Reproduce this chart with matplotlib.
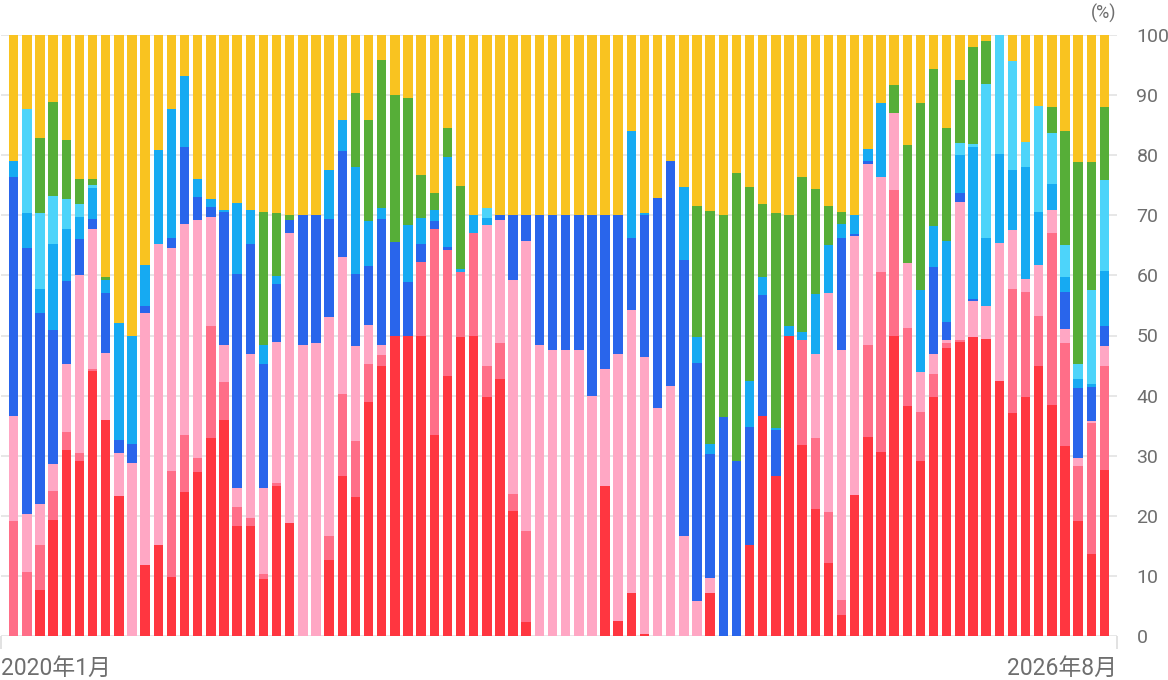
import matplotlib
matplotlib.use('Agg')
import matplotlib.pyplot as plt
import numpy as np

plt.rcParams['font.family'] = ['Roboto', 'Noto Sans CJK SC', 'DejaVu Sans']

# 84 monthly bars, only first and last month are labelled
first_label = '2020年1月'
last_label = '2026年8月'
y_ticks = [0, 10, 20, 30, 40, 50, 60, 70, 80, 90, 100]

# series values (%), stacked bottom -> top
red = [0, 0, 7.6, 19.3, 31.0, 29.1, 44.1, 35.9, 23.3, 0, 11.8, 15.2,
       9.8, 23.9, 27.3, 33.0, 35.9, 18.3, 18.3, 9.5, 25.0, 18.8, 0, 0,
       12.6, 26.6, 23.1, 38.9, 45.0, 50.0, 50.0, 50.0, 33.4, 43.2, 49.7, 50.0,
       39.7, 42.7, 20.8, 2.4, 0, 0, 0, 0, 0, 25.0, 2.5, 7.1,
       0.3, 0, 0, 0, 0, 7.2, 0, 0, 15.2, 36.6, 26.6, 50.0,
       31.8, 21.2, 12.1, 3.5, 23.5, 33.1, 30.6, 50.0, 38.2, 29.2, 39.7, 48.0,
       49.0, 49.8, 49.5, 42.4, 37.1, 39.7, 45.0, 38.4, 31.6, 19.2, 13.7, 27.6]
salmon = [19.2, 10.6, 7.6, 4.8, 3.0, 1.3, 0.3, 0, 0, 0, 0, 0,
          17.7, 9.6, 2.4, 18.5, 6.4, 3.1, 1.4, 0.8, 0.5, 0, 0, 0,
          4.1, 13.7, 9.4, 6.4, 1.7, 0, 0, 12.2, 34.4, 21.0, 10.8, 17.0,
          5.3, 6.0, 2.9, 15.1, 0, 0, 0, 0, 0, 0, 0, 0,
          0, 0, 0, 0, 0, 0, 0, 0, 0, 0, 0, 0,
          17.5, 11.7, 8.5, 2.5, 0, 15.4, 29.9, 24.2, 13.1, 8.1, 3.9, 0.7,
          0.3, 0, 0, 0, 20.6, 17.5, 8.3, 28.6, 17.1, 9.1, 21.7, 17.4]
pink = [17.4, 9.7, 6.8, 4.5, 11.2, 29.7, 23.4, 11.2, 7.1, 28.8, 42.0, 50.0,
        37.1, 35.1, 39.6, 18.2, 6.2, 3.2, 27.2, 14.3, 23.4, 48.2, 48.5, 48.7,
        36.4, 22.8, 15.7, 6.5, 1.8, 0, 0, 0, 0, 0, 0, 0,
        23.4, 20.6, 35.6, 48.2, 48.5, 47.6, 47.6, 47.6, 39.9, 19.4, 44.5, 47.1,
        46.2, 38.0, 41.6, 16.7, 5.8, 2.4, 0, 0, 0, 0, 0, 0,
        0, 14.0, 36.4, 41.6, 43.0, 30.1, 15.8, 12.9, 10.7, 6.6, 3.4, 0.6,
        22.9, 6.0, 5.4, 23.0, 9.9, 2.2, 8.5, 3.9, 2.3, 1.3, 0.4, 3.2]
blue = [39.7, 44.3, 31.7, 22.3, 13.9, 5.9, 1.6, 10.0, 2.2, 3.2, 1.1, 0,
        1.7, 12.8, 3.7, 1.7, 22.0, 35.7, 18.3, 20.7, 9.6, 2.2, 21.5, 21.3,
        16.3, 17.6, 12.0, 9.7, 20.9, 15.6, 8.9, 3.0, 1.2, 0.5, 0, 0,
        0, 0.7, 10.7, 4.3, 21.5, 22.4, 22.4, 22.4, 30.1, 25.6, 23.0, 12.1,
        23.6, 34.9, 37.4, 45.9, 39.6, 20.6, 36.4, 29.2, 19.6, 20.2, 7.7, 0,
        0, 0, 0, 18.6, 0.4, 0.4, 0, 0, 0, 0, 14.4, 2.9,
        1.5, 0.2, 0, 0, 0, 0, 0, 0, 6.3, 11.7, 5.6, 3.3]
sky = [2.8, 5.8, 4.1, 14.3, 8.7, 3.7, 5.1, 2.2, 19.4, 18.0, 6.9, 15.7,
       21.4, 11.7, 3.0, 1.3, 0.4, 11.7, 5.7, 3.1, 1.4, 0, 0, 0,
       8.2, 5.2, 17.9, 7.5, 1.8, 0, 9.5, 4.3, 1.8, 15.0, 0.6, 3.0,
       1.1, 0, 0, 0, 0, 0, 0, 0, 0, 0, 0, 17.8,
       0.3, 0, 0, 12.1, 4.3, 1.8, 0, 0, 7.7, 3.0, 0.3, 1.6,
       1.2, 10.0, 8.1, 2.4, 3.1, 2.0, 12.4, 0, 0, 13.6, 6.9, 13.5,
       6.4, 25.4, 11.4, 14.8, 10.0, 18.7, 8.8, 4.3, 2.5, 1.4, 0.6, 9.3]
cyan = [0, 17.3, 12.6, 8.0, 4.9, 2.2, 0.5, 0, 0, 0, 0, 0,
        0, 0, 0, 0, 0, 0, 0, 0, 0, 0, 0, 0,
        0, 0, 0, 0, 0, 0, 0, 0, 0, 0, 0, 0,
        1.7, 0, 0, 0, 0, 0, 0, 0, 0, 0, 0, 0,
        0, 0, 0, 0, 0, 0, 0, 0, 0, 0, 0, 0,
        0, 0, 0, 0, 0, 0, 0, 0, 0, 0, 0, 0,
        1.9, 0.4, 25.5, 19.8, 18.0, 4.1, 17.6, 8.5, 5.2, 2.6, 15.5, 15.0]
green = [0, 0, 12.4, 15.7, 9.8, 4.1, 1.0, 0.4, 0, 0, 0, 0,
         0, 0, 0, 0, 0, 0, 0, 22.1, 10.4, 0.8, 0, 0,
         0, 0, 12.3, 16.9, 24.7, 24.4, 21.1, 7.2, 2.9, 4.9, 13.7, 0,
         0, 0, 0, 0, 0, 0, 0, 0, 0, 0, 0, 0,
         0, 0, 0, 0, 21.9, 38.7, 33.6, 47.8, 32.2, 12.0, 35.7, 18.4,
         25.8, 17.4, 6.5, 1.9, 0, 0, 0, 4.5, 19.7, 31.2, 26.1, 18.9,
         10.5, 16.2, 7.2, 0, 0, 0, 0, 4.3, 19.1, 33.6, 21.4, 12.2]
yellow = [20.9, 12.3, 17.2, 11.1, 17.5, 24.0, 24.0, 40.3, 48.0, 50.0, 38.2, 19.1,
          12.3, 6.9, 24.0, 27.3, 29.1, 28.0, 29.1, 29.5, 29.7, 30.0, 30.0, 30.0,
          22.4, 14.1, 9.6, 14.1, 4.1, 10.0, 10.5, 23.3, 26.3, 15.4, 25.2, 30.0,
          28.8, 30.0, 30.0, 30.0, 30.0, 30.0, 30.0, 30.0, 30.0, 30.0, 30.0, 15.9,
          29.6, 27.1, 21.0, 25.3, 28.4, 29.3, 30.0, 23.0, 25.3, 28.2, 29.7, 30.0,
          23.7, 25.7, 28.4, 29.5, 30.0, 19.0, 11.3, 8.4, 18.3, 11.3, 5.6, 15.4,
          7.5, 2.0, 1.0, 0, 4.4, 17.8, 11.8, 12.0, 15.9, 21.1, 21.1, 12.0]

series = [red, salmon, pink, blue, sky, cyan, green, yellow]
colors = ['#FF3640', '#FF6E88', '#FFA7C4', '#2965EB',
          '#16AAF2', '#4DD4FA', '#56AE38', '#F9C320']

fig = plt.figure(figsize=(11.68, 6.8), dpi=100)
ax = fig.add_axes([1 / 1168, 44 / 680, 1116 / 1168, 601 / 680])

x = np.arange(len(red))
bottom = np.zeros(len(red))
for vals, col in zip(series, colors):
    vals = np.array(vals)
    ax.bar(x, vals, bottom=bottom, width=0.72, color=col, zorder=3, linewidth=0)
    bottom += vals

x_left, x_right = -0.97, 83.96
ax.set_xlim(x_left, x_right)
ax.set_ylim(0, 100)

# grid
ax.set_yticks(y_ticks)
ax.grid(axis='y', color='#E3E3E3', linewidth=1.2, zorder=0)
for s in ax.spines.values():
    s.set_visible(False)

ax.yaxis.tick_right()
ax.tick_params(axis='y', length=0, pad=14, labelsize=14, labelcolor='#6E6E6E')
for lbl in ax.get_yticklabels():
    lbl.set_ha('left')

ax.set_xticks([x_left, x_right])
ax.set_xticklabels([first_label, last_label])
ax.tick_params(axis='x', length=9, width=1.2, color='#DDDDDD', pad=6,
               labelsize=16.5, labelcolor='#6E6E6E')
xl = ax.get_xticklabels()
xl[0].set_ha('left')
xl[1].set_ha('right')

fig.text(1116 / 1168, 1 - 13 / 680, '(%)', ha='right', va='center',
         fontsize=13, color='#6E6E6E')

fig.savefig('out.png', dpi=100)
